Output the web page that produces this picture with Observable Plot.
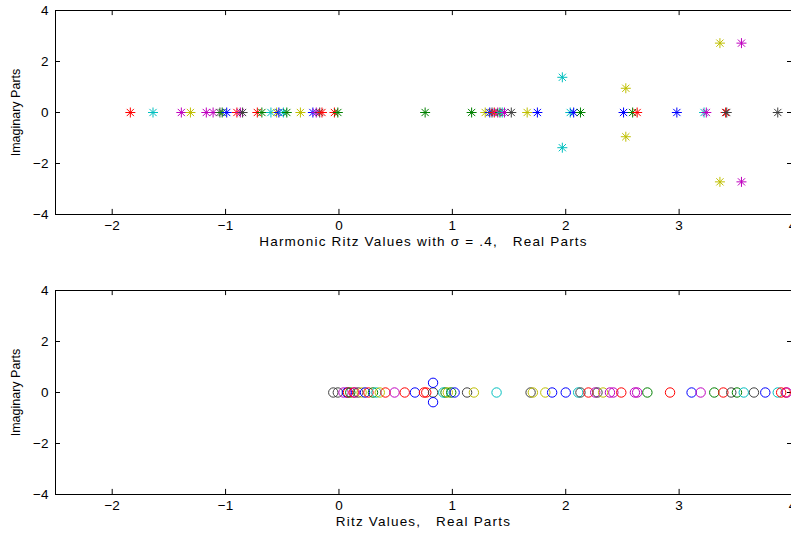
<!DOCTYPE html>
<html>
<head>
<meta charset="utf-8">
<script src="https://cdn.jsdelivr.net/npm/d3@7"></script>
<script src="https://cdn.jsdelivr.net/npm/@observablehq/plot@0.6"></script>
<style>
  html, body { margin: 0; padding: 0; background: white; }
  svg { display: block; }
</style>
</head>
<body>
<div id="chart"></div>
<script>
// ---- data ----
const xTicks = [-2, -1, 0, 1, 2, 3, 4];
const yTicks = [-4, -2, 0, 2, 4];
const seriesKeys = ["b", "g", "r", "c", "m", "y", "k"];
const seriesColors = ["#0000ff", "#008000", "#ff0000", "#00bfbf", "#bf00bf", "#bfbf00", "#404040"];

// Top panel: harmonic Ritz values (sigma = .4)
const topRe = [-1.84, -1.64, -1.39, -1.31, -1.17, -1.11, -1.05, -1.03, -0.99, -0.90, -0.87, -0.85,
  -0.72, -0.68, -0.60, -0.55, -0.53, -0.49, -0.46, -0.34, -0.23, -0.20, -0.17, -0.15, -0.04, -0.01,
  0.76, 1.17, 1.29, 1.33, 1.35, 1.37, 1.40, 1.42, 1.44, 1.46, 1.52, 1.66, 1.75,
  1.97, 1.97, 2.04, 2.07, 2.13, 2.53, 2.53, 2.51, 2.59, 2.63, 2.98, 3.22, 3.24, 3.41, 3.42,
  3.36, 3.36, 3.55, 3.55, 3.87];
const topIm = [0, 0, 0, 0, 0, 0, 0, 0, 0, 0, 0, 0,
  0, 0, 0, 0, 0, 0, 0, 0, 0, 0, 0, 0, 0, 0,
  0, 0, 0, 0, 0, 0, 0, 0, 0, 0, 0, 0, 0,
  1.38, -1.38, 0, 0, 0, 0.95, -0.95, 0, 0, 0, 0, 0, 0, 0, 0,
  2.72, -2.72, 2.72, -2.72, 0];
const topSeries = ["r", "c", "m", "y", "m", "m", "k", "g", "b", "r", "m", "k",
  "r", "g", "c", "y", "b", "c", "g", "y", "b", "m", "k", "r", "r", "g",
  "g", "g", "y", "b", "k", "r", "m", "g", "c", "m", "k", "y", "b",
  "c", "c", "c", "b", "g", "y", "y", "b", "g", "r", "b", "c", "m", "r", "k",
  "y", "y", "m", "m", "k"];

// Bottom panel: Ritz values
const botRe = [-0.05, -0.01, 0.04, 0.07, 0.08, 0.10, 0.13, 0.14, 0.17, 0.20, 0.23, 0.26, 0.30, 0.33,
  0.36, 0.41, 0.49, 0.58, 0.67, 0.75, 0.77, 0.83, 0.83, 0.83, 0.92, 0.94, 0.96, 0.99, 1.02, 1.13,
  1.19, 1.39, 1.69, 1.71, 1.82, 1.88, 2.00, 2.11, 2.13, 2.20, 2.26, 2.28, 2.33, 2.39, 2.42, 2.49,
  2.61, 2.63, 2.72, 2.92, 3.11, 3.19, 3.31, 3.39, 3.46, 3.51, 3.57, 3.66, 3.76, 3.87, 3.90, 3.94, 3.95];
const botIm = [0, 0, 0, 0, 0, 0, 0, 0, 0, 0, 0, 0, 0, 0,
  0, 0, 0, 0, 0, 0, 0, 0, 0.38, -0.38, 0, 0, 0, 0, 0, 0,
  0, 0, 0, 0, 0, 0, 0, 0, 0, 0, 0, 0, 0, 0, 0, 0,
  0, 0, 0, 0, 0, 0, 0, 0, 0, 0, 0, 0, 0, 0, 0, 0, 0];
const botSeries = ["k", "k", "m", "b", "r", "g", "r", "m", "k", "y", "b", "r", "g", "c",
  "y", "r", "m", "r", "b", "r", "r", "k", "b", "b", "c", "g", "y", "g", "b", "k",
  "y", "c", "k", "y", "y", "b", "b", "c", "k", "r", "m", "k", "y", "m", "m", "r",
  "m", "m", "g", "r", "b", "m", "g", "r", "k", "g", "c", "k", "b", "c", "r", "r", "m"];

const topLabel = "Harmonic Ritz Values with \u03c3 = .4,\u00a0\u00a0\u00a0Real Parts";
const botLabel = "Ritz Values,\u00a0\u00a0\u00a0Real Parts";
const yLabel = "Imaginary Parts";

// MATLAB-style '*' marker: four strokes through the centre
const starSymbol = {
  draw(context, size) {
    const r = Math.sqrt(size / Math.PI);
    const d = r * 0.72;
    context.moveTo(-r, 0); context.lineTo(r, 0);
    context.moveTo(0, -r); context.lineTo(0, r);
    context.moveTo(-d, -d); context.lineTo(d, d);
    context.moveTo(-d, d); context.lineTo(d, -d);
  }
};

function panel({re, im, series, symbol, r, height, marginTop, marginBottom, xlabel}) {
  const data = re.map((v, i) => ({re: v, im: im[i], s: series[i]}));
  const xlen = 0.2;     // inward tick length in y units
  const ylen = 0.044;   // inward tick length in x units
  const svg = Plot.plot({
    width: 791,
    height,
    marginLeft: 55,
    marginRight: 0,
    marginTop,
    marginBottom,
    style: {fontFamily: "'Liberation Sans', Arial, Helvetica, sans-serif", fontSize: "13.5px", background: "white", color: "black"},
    x: {domain: [-2.5, 4], range: [55, 792], ticks: xTicks, tickFormat: "d", tickSize: 0, tickPadding: 6, label: null, line: false},
    y: {domain: [-4, 4], ticks: yTicks, tickFormat: "d", tickSize: 0, tickPadding: 7, label: null, line: false},
    color: {type: "ordinal", domain: seriesKeys, range: seriesColors},
    marks: [
      // frame
      Plot.ruleY([-4, 4], {x1: -2.5, x2: 4, stroke: "black", strokeWidth: 1}),
      Plot.ruleX([-2.5, 4], {y1: -4, y2: 4, stroke: "black", strokeWidth: 1}),
      // inward ticks
      Plot.ruleX(xTicks, {y1: -4, y2: -4 + xlen, stroke: "black"}),
      Plot.ruleX(xTicks, {y1: 4, y2: 4 - xlen, stroke: "black"}),
      Plot.ruleY(yTicks, {x1: -2.5, x2: -2.5 + ylen, stroke: "black"}),
      Plot.ruleY(yTicks, {x1: 4, x2: 4 - ylen, stroke: "black"}),
      // points
      Plot.dot(data, {x: "re", y: "im", stroke: "s", symbol, r, strokeWidth: 1, fill: "none"}),
      // axis titles
      Plot.text([xlabel], {frameAnchor: "bottom", dy: 31, fontSize: 13.5, fill: "black"}),
      Plot.text([yLabel], {frameAnchor: "left", textAnchor: "middle", dx: -40, rotate: -90, fontSize: 12.5, fill: "black"})
    ]
  });
  // widen the x-axis title's letter spacing to match the reference rendering
  svg.querySelectorAll("text").forEach(t => {
    if (t.textContent === xlabel) t.style.letterSpacing = "1.2px";
  });
  return svg;
}

const chart = document.getElementById("chart");
chart.appendChild(panel({
  re: topRe, im: topIm, series: topSeries, symbol: starSymbol, r: 5,
  height: 260, marginTop: 10, marginBottom: 46, xlabel: topLabel
}));
chart.appendChild(panel({
  re: botRe, im: botIm, series: botSeries, symbol: "circle", r: 4.7,
  height: 277, marginTop: 30, marginBottom: 43, xlabel: botLabel
}));
</script>
</body>
</html>
